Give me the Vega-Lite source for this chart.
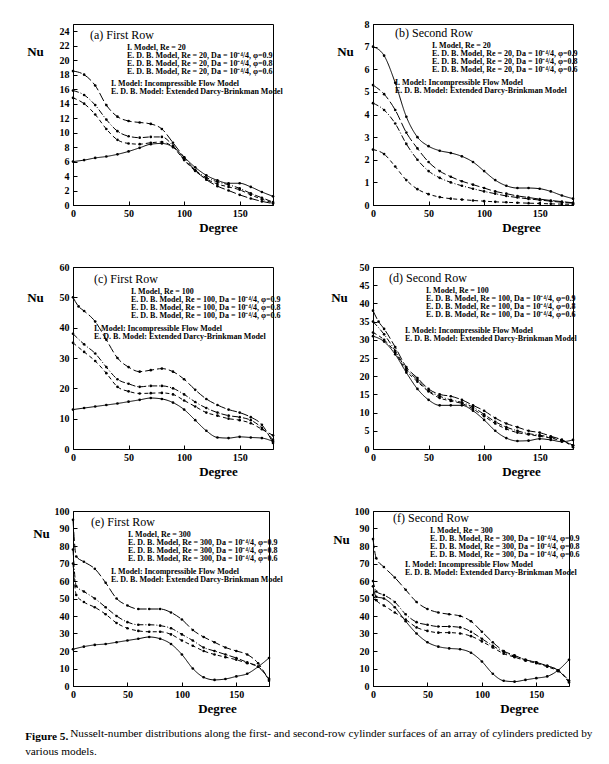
{
  "$schema": "https://vega.github.io/schema/vega-lite/v6.json",
  "padding": {"left": 25, "top": 18, "right": 5, "bottom": 5},
  "background": "white",
  "datasets": {
    "nu": [
      {"p":"a","s":"I","d":0,"n":6.0},{"p":"a","s":"I","d":10,"n":6.2},{"p":"a","s":"I","d":20,"n":6.5},{"p":"a","s":"I","d":30,"n":6.7},{"p":"a","s":"I","d":40,"n":7.0},{"p":"a","s":"I","d":50,"n":7.4},{"p":"a","s":"I","d":60,"n":7.9},{"p":"a","s":"I","d":70,"n":8.4},{"p":"a","s":"I","d":80,"n":8.5},{"p":"a","s":"I","d":90,"n":8.0},{"p":"a","s":"I","d":100,"n":6.6},{"p":"a","s":"I","d":110,"n":5.2},{"p":"a","s":"I","d":120,"n":4.1},{"p":"a","s":"I","d":130,"n":3.4},{"p":"a","s":"I","d":140,"n":3.0},{"p":"a","s":"I","d":150,"n":3.0},{"p":"a","s":"I","d":160,"n":2.5},{"p":"a","s":"I","d":170,"n":1.8},{"p":"a","s":"I","d":180,"n":1.2},
      {"p":"a","s":"0.9","d":0,"n":14.8},{"p":"a","s":"0.9","d":10,"n":14.0},{"p":"a","s":"0.9","d":20,"n":12.5},{"p":"a","s":"0.9","d":30,"n":10.5},{"p":"a","s":"0.9","d":40,"n":9.0},{"p":"a","s":"0.9","d":50,"n":8.5},{"p":"a","s":"0.9","d":60,"n":8.4},{"p":"a","s":"0.9","d":70,"n":8.6},{"p":"a","s":"0.9","d":80,"n":8.7},{"p":"a","s":"0.9","d":90,"n":8.0},{"p":"a","s":"0.9","d":100,"n":6.2},{"p":"a","s":"0.9","d":110,"n":4.7},{"p":"a","s":"0.9","d":120,"n":3.6},{"p":"a","s":"0.9","d":130,"n":2.9},{"p":"a","s":"0.9","d":140,"n":2.5},{"p":"a","s":"0.9","d":150,"n":2.1},{"p":"a","s":"0.9","d":160,"n":1.4},{"p":"a","s":"0.9","d":170,"n":0.8},{"p":"a","s":"0.9","d":180,"n":0.3},
      {"p":"a","s":"0.8","d":0,"n":15.8},{"p":"a","s":"0.8","d":10,"n":15.2},{"p":"a","s":"0.8","d":20,"n":13.8},{"p":"a","s":"0.8","d":30,"n":11.8},{"p":"a","s":"0.8","d":40,"n":10.2},{"p":"a","s":"0.8","d":50,"n":9.5},{"p":"a","s":"0.8","d":60,"n":9.3},{"p":"a","s":"0.8","d":70,"n":9.4},{"p":"a","s":"0.8","d":80,"n":9.4},{"p":"a","s":"0.8","d":90,"n":8.2},{"p":"a","s":"0.8","d":100,"n":6.3},{"p":"a","s":"0.8","d":110,"n":4.8},{"p":"a","s":"0.8","d":120,"n":3.8},{"p":"a","s":"0.8","d":130,"n":3.2},{"p":"a","s":"0.8","d":140,"n":2.8},{"p":"a","s":"0.8","d":150,"n":2.3},{"p":"a","s":"0.8","d":160,"n":1.6},{"p":"a","s":"0.8","d":170,"n":1.0},{"p":"a","s":"0.8","d":180,"n":0.4},
      {"p":"a","s":"0.6","d":0,"n":18.5},{"p":"a","s":"0.6","d":10,"n":18.0},{"p":"a","s":"0.6","d":20,"n":16.5},{"p":"a","s":"0.6","d":30,"n":13.8},{"p":"a","s":"0.6","d":40,"n":12.2},{"p":"a","s":"0.6","d":50,"n":11.6},{"p":"a","s":"0.6","d":60,"n":11.4},{"p":"a","s":"0.6","d":70,"n":11.2},{"p":"a","s":"0.6","d":80,"n":10.5},{"p":"a","s":"0.6","d":90,"n":8.6},{"p":"a","s":"0.6","d":100,"n":6.6},{"p":"a","s":"0.6","d":110,"n":4.8},{"p":"a","s":"0.6","d":120,"n":3.5},{"p":"a","s":"0.6","d":130,"n":2.6},{"p":"a","s":"0.6","d":140,"n":2.0},{"p":"a","s":"0.6","d":150,"n":1.4},{"p":"a","s":"0.6","d":160,"n":0.9},{"p":"a","s":"0.6","d":170,"n":0.5},{"p":"a","s":"0.6","d":180,"n":0.2},

      {"p":"b","s":"I","d":0,"n":7.0},{"p":"b","s":"I","d":10,"n":6.6},{"p":"b","s":"I","d":20,"n":5.4},{"p":"b","s":"I","d":30,"n":3.9},{"p":"b","s":"I","d":40,"n":3.0},{"p":"b","s":"I","d":50,"n":2.6},{"p":"b","s":"I","d":60,"n":2.4},{"p":"b","s":"I","d":70,"n":2.3},{"p":"b","s":"I","d":80,"n":2.15},{"p":"b","s":"I","d":90,"n":1.9},{"p":"b","s":"I","d":100,"n":1.5},{"p":"b","s":"I","d":110,"n":1.1},{"p":"b","s":"I","d":120,"n":0.85},{"p":"b","s":"I","d":130,"n":0.75},{"p":"b","s":"I","d":140,"n":0.75},{"p":"b","s":"I","d":150,"n":0.72},{"p":"b","s":"I","d":160,"n":0.6},{"p":"b","s":"I","d":170,"n":0.42},{"p":"b","s":"I","d":180,"n":0.28},
      {"p":"b","s":"0.9","d":0,"n":2.45},{"p":"b","s":"0.9","d":10,"n":2.25},{"p":"b","s":"0.9","d":20,"n":1.7},{"p":"b","s":"0.9","d":30,"n":1.1},{"p":"b","s":"0.9","d":40,"n":0.7},{"p":"b","s":"0.9","d":50,"n":0.48},{"p":"b","s":"0.9","d":60,"n":0.35},{"p":"b","s":"0.9","d":70,"n":0.28},{"p":"b","s":"0.9","d":80,"n":0.24},{"p":"b","s":"0.9","d":90,"n":0.2},{"p":"b","s":"0.9","d":100,"n":0.17},{"p":"b","s":"0.9","d":110,"n":0.14},{"p":"b","s":"0.9","d":120,"n":0.12},{"p":"b","s":"0.9","d":130,"n":0.1},{"p":"b","s":"0.9","d":140,"n":0.08},{"p":"b","s":"0.9","d":150,"n":0.07},{"p":"b","s":"0.9","d":160,"n":0.05},{"p":"b","s":"0.9","d":170,"n":0.04},{"p":"b","s":"0.9","d":180,"n":0.03},
      {"p":"b","s":"0.8","d":0,"n":4.5},{"p":"b","s":"0.8","d":10,"n":4.2},{"p":"b","s":"0.8","d":20,"n":3.6},{"p":"b","s":"0.8","d":30,"n":2.7},{"p":"b","s":"0.8","d":40,"n":2.0},{"p":"b","s":"0.8","d":50,"n":1.5},{"p":"b","s":"0.8","d":60,"n":1.2},{"p":"b","s":"0.8","d":70,"n":1.0},{"p":"b","s":"0.8","d":80,"n":0.85},{"p":"b","s":"0.8","d":90,"n":0.72},{"p":"b","s":"0.8","d":100,"n":0.6},{"p":"b","s":"0.8","d":110,"n":0.5},{"p":"b","s":"0.8","d":120,"n":0.4},{"p":"b","s":"0.8","d":130,"n":0.33},{"p":"b","s":"0.8","d":140,"n":0.27},{"p":"b","s":"0.8","d":150,"n":0.22},{"p":"b","s":"0.8","d":160,"n":0.17},{"p":"b","s":"0.8","d":170,"n":0.12},{"p":"b","s":"0.8","d":180,"n":0.08},
      {"p":"b","s":"0.6","d":0,"n":5.3},{"p":"b","s":"0.6","d":10,"n":4.9},{"p":"b","s":"0.6","d":20,"n":4.2},{"p":"b","s":"0.6","d":30,"n":3.2},{"p":"b","s":"0.6","d":40,"n":2.5},{"p":"b","s":"0.6","d":50,"n":1.9},{"p":"b","s":"0.6","d":60,"n":1.5},{"p":"b","s":"0.6","d":70,"n":1.25},{"p":"b","s":"0.6","d":80,"n":1.05},{"p":"b","s":"0.6","d":90,"n":0.9},{"p":"b","s":"0.6","d":100,"n":0.75},{"p":"b","s":"0.6","d":110,"n":0.6},{"p":"b","s":"0.6","d":120,"n":0.5},{"p":"b","s":"0.6","d":130,"n":0.4},{"p":"b","s":"0.6","d":140,"n":0.33},{"p":"b","s":"0.6","d":150,"n":0.26},{"p":"b","s":"0.6","d":160,"n":0.2},{"p":"b","s":"0.6","d":170,"n":0.15},{"p":"b","s":"0.6","d":180,"n":0.1},

      {"p":"c","s":"I","d":0,"n":13},{"p":"c","s":"I","d":10,"n":13.5},{"p":"c","s":"I","d":20,"n":14},{"p":"c","s":"I","d":30,"n":14.5},{"p":"c","s":"I","d":40,"n":15},{"p":"c","s":"I","d":50,"n":15.6},{"p":"c","s":"I","d":60,"n":16.2},{"p":"c","s":"I","d":70,"n":16.8},{"p":"c","s":"I","d":80,"n":16.5},{"p":"c","s":"I","d":90,"n":15.3},{"p":"c","s":"I","d":100,"n":13},{"p":"c","s":"I","d":110,"n":9.5},{"p":"c","s":"I","d":120,"n":6},{"p":"c","s":"I","d":130,"n":3.8},{"p":"c","s":"I","d":140,"n":3.6},{"p":"c","s":"I","d":150,"n":4.0},{"p":"c","s":"I","d":160,"n":3.8},{"p":"c","s":"I","d":170,"n":3.6},{"p":"c","s":"I","d":180,"n":2.5},
      {"p":"c","s":"0.9","d":0,"n":35},{"p":"c","s":"0.9","d":10,"n":32},{"p":"c","s":"0.9","d":20,"n":29},{"p":"c","s":"0.9","d":30,"n":25},{"p":"c","s":"0.9","d":40,"n":20.5},{"p":"c","s":"0.9","d":50,"n":19},{"p":"c","s":"0.9","d":60,"n":18.3},{"p":"c","s":"0.9","d":70,"n":18.4},{"p":"c","s":"0.9","d":80,"n":18.5},{"p":"c","s":"0.9","d":90,"n":18},{"p":"c","s":"0.9","d":100,"n":16},{"p":"c","s":"0.9","d":110,"n":14},{"p":"c","s":"0.9","d":120,"n":12},{"p":"c","s":"0.9","d":130,"n":11},{"p":"c","s":"0.9","d":140,"n":10},{"p":"c","s":"0.9","d":150,"n":9.5},{"p":"c","s":"0.9","d":160,"n":8.5},{"p":"c","s":"0.9","d":170,"n":6.5},{"p":"c","s":"0.9","d":180,"n":4.5},
      {"p":"c","s":"0.8","d":0,"n":38},{"p":"c","s":"0.8","d":10,"n":34.5},{"p":"c","s":"0.8","d":20,"n":31.5},{"p":"c","s":"0.8","d":30,"n":27},{"p":"c","s":"0.8","d":40,"n":23},{"p":"c","s":"0.8","d":50,"n":21.5},{"p":"c","s":"0.8","d":60,"n":20.5},{"p":"c","s":"0.8","d":70,"n":20.8},{"p":"c","s":"0.8","d":80,"n":20.8},{"p":"c","s":"0.8","d":90,"n":20},{"p":"c","s":"0.8","d":100,"n":18},{"p":"c","s":"0.8","d":110,"n":15.5},{"p":"c","s":"0.8","d":120,"n":13.5},{"p":"c","s":"0.8","d":130,"n":12},{"p":"c","s":"0.8","d":140,"n":11},{"p":"c","s":"0.8","d":150,"n":10.5},{"p":"c","s":"0.8","d":160,"n":9.5},{"p":"c","s":"0.8","d":170,"n":7},{"p":"c","s":"0.8","d":180,"n":3},
      {"p":"c","s":"0.6","d":0,"n":50},{"p":"c","s":"0.6","d":5,"n":47},{"p":"c","s":"0.6","d":10,"n":45.5},{"p":"c","s":"0.6","d":20,"n":42},{"p":"c","s":"0.6","d":30,"n":36},{"p":"c","s":"0.6","d":40,"n":30},{"p":"c","s":"0.6","d":50,"n":27},{"p":"c","s":"0.6","d":60,"n":25.5},{"p":"c","s":"0.6","d":70,"n":26},{"p":"c","s":"0.6","d":80,"n":26.5},{"p":"c","s":"0.6","d":90,"n":25.5},{"p":"c","s":"0.6","d":100,"n":23},{"p":"c","s":"0.6","d":110,"n":19.5},{"p":"c","s":"0.6","d":120,"n":16.5},{"p":"c","s":"0.6","d":130,"n":14.5},{"p":"c","s":"0.6","d":140,"n":13},{"p":"c","s":"0.6","d":150,"n":12},{"p":"c","s":"0.6","d":160,"n":10.5},{"p":"c","s":"0.6","d":170,"n":8},{"p":"c","s":"0.6","d":180,"n":2},

      {"p":"d","s":"I","d":0,"n":31},{"p":"d","s":"I","d":10,"n":29.5},{"p":"d","s":"I","d":20,"n":26},{"p":"d","s":"I","d":30,"n":21},{"p":"d","s":"I","d":40,"n":16.5},{"p":"d","s":"I","d":50,"n":13.5},{"p":"d","s":"I","d":60,"n":12},{"p":"d","s":"I","d":70,"n":12},{"p":"d","s":"I","d":80,"n":12},{"p":"d","s":"I","d":90,"n":10.5},{"p":"d","s":"I","d":100,"n":8},{"p":"d","s":"I","d":110,"n":5},{"p":"d","s":"I","d":120,"n":3},{"p":"d","s":"I","d":130,"n":2.2},{"p":"d","s":"I","d":140,"n":2.3},{"p":"d","s":"I","d":150,"n":2.8},{"p":"d","s":"I","d":160,"n":2.5},{"p":"d","s":"I","d":170,"n":2.0},{"p":"d","s":"I","d":180,"n":2.5},
      {"p":"d","s":"0.9","d":0,"n":32},{"p":"d","s":"0.9","d":10,"n":30},{"p":"d","s":"0.9","d":20,"n":26.5},{"p":"d","s":"0.9","d":30,"n":21.5},{"p":"d","s":"0.9","d":40,"n":18.5},{"p":"d","s":"0.9","d":50,"n":15.8},{"p":"d","s":"0.9","d":60,"n":14},{"p":"d","s":"0.9","d":70,"n":13.2},{"p":"d","s":"0.9","d":80,"n":12.5},{"p":"d","s":"0.9","d":90,"n":11},{"p":"d","s":"0.9","d":100,"n":9},{"p":"d","s":"0.9","d":110,"n":7},{"p":"d","s":"0.9","d":120,"n":5.5},{"p":"d","s":"0.9","d":130,"n":4.5},{"p":"d","s":"0.9","d":140,"n":4},{"p":"d","s":"0.9","d":150,"n":3.5},{"p":"d","s":"0.9","d":160,"n":3},{"p":"d","s":"0.9","d":170,"n":2.2},{"p":"d","s":"0.9","d":180,"n":1},
      {"p":"d","s":"0.8","d":0,"n":35},{"p":"d","s":"0.8","d":10,"n":31.5},{"p":"d","s":"0.8","d":20,"n":27},{"p":"d","s":"0.8","d":30,"n":22},{"p":"d","s":"0.8","d":40,"n":19},{"p":"d","s":"0.8","d":50,"n":16},{"p":"d","s":"0.8","d":60,"n":14.5},{"p":"d","s":"0.8","d":70,"n":13.5},{"p":"d","s":"0.8","d":80,"n":12.8},{"p":"d","s":"0.8","d":90,"n":11.5},{"p":"d","s":"0.8","d":100,"n":9.5},{"p":"d","s":"0.8","d":110,"n":7.5},{"p":"d","s":"0.8","d":120,"n":6},{"p":"d","s":"0.8","d":130,"n":5},{"p":"d","s":"0.8","d":140,"n":4.2},{"p":"d","s":"0.8","d":150,"n":3.8},{"p":"d","s":"0.8","d":160,"n":3.2},{"p":"d","s":"0.8","d":170,"n":2.5},{"p":"d","s":"0.8","d":180,"n":1},
      {"p":"d","s":"0.6","d":0,"n":38},{"p":"d","s":"0.6","d":5,"n":35},{"p":"d","s":"0.6","d":10,"n":33},{"p":"d","s":"0.6","d":20,"n":28},{"p":"d","s":"0.6","d":30,"n":22.5},{"p":"d","s":"0.6","d":40,"n":19.5},{"p":"d","s":"0.6","d":50,"n":16.5},{"p":"d","s":"0.6","d":60,"n":15},{"p":"d","s":"0.6","d":70,"n":14.5},{"p":"d","s":"0.6","d":80,"n":13.5},{"p":"d","s":"0.6","d":90,"n":12},{"p":"d","s":"0.6","d":100,"n":10.5},{"p":"d","s":"0.6","d":110,"n":8.5},{"p":"d","s":"0.6","d":120,"n":7},{"p":"d","s":"0.6","d":130,"n":6},{"p":"d","s":"0.6","d":140,"n":5},{"p":"d","s":"0.6","d":150,"n":4.5},{"p":"d","s":"0.6","d":160,"n":3.5},{"p":"d","s":"0.6","d":170,"n":2.5},{"p":"d","s":"0.6","d":180,"n":0.5},

      {"p":"e","s":"I","d":0,"n":21},{"p":"e","s":"I","d":10,"n":22.5},{"p":"e","s":"I","d":20,"n":23.5},{"p":"e","s":"I","d":30,"n":24},{"p":"e","s":"I","d":40,"n":25},{"p":"e","s":"I","d":50,"n":26},{"p":"e","s":"I","d":60,"n":27},{"p":"e","s":"I","d":70,"n":28},{"p":"e","s":"I","d":80,"n":27},{"p":"e","s":"I","d":90,"n":24},{"p":"e","s":"I","d":100,"n":18},{"p":"e","s":"I","d":110,"n":10},{"p":"e","s":"I","d":120,"n":5},{"p":"e","s":"I","d":130,"n":3.5},{"p":"e","s":"I","d":140,"n":4},{"p":"e","s":"I","d":150,"n":5.5},{"p":"e","s":"I","d":160,"n":7},{"p":"e","s":"I","d":170,"n":11},{"p":"e","s":"I","d":180,"n":16},
      {"p":"e","s":"0.9","d":0,"n":70},{"p":"e","s":"0.9","d":3,"n":52},{"p":"e","s":"0.9","d":10,"n":48},{"p":"e","s":"0.9","d":20,"n":45},{"p":"e","s":"0.9","d":30,"n":41},{"p":"e","s":"0.9","d":40,"n":36},{"p":"e","s":"0.9","d":50,"n":33},{"p":"e","s":"0.9","d":60,"n":31.5},{"p":"e","s":"0.9","d":70,"n":31},{"p":"e","s":"0.9","d":80,"n":31},{"p":"e","s":"0.9","d":90,"n":29.5},{"p":"e","s":"0.9","d":100,"n":26},{"p":"e","s":"0.9","d":110,"n":23},{"p":"e","s":"0.9","d":120,"n":20},{"p":"e","s":"0.9","d":130,"n":18},{"p":"e","s":"0.9","d":140,"n":16.5},{"p":"e","s":"0.9","d":150,"n":15},{"p":"e","s":"0.9","d":160,"n":13},{"p":"e","s":"0.9","d":170,"n":11},{"p":"e","s":"0.9","d":180,"n":4},
      {"p":"e","s":"0.8","d":0,"n":78},{"p":"e","s":"0.8","d":3,"n":57},{"p":"e","s":"0.8","d":10,"n":54},{"p":"e","s":"0.8","d":20,"n":50},{"p":"e","s":"0.8","d":30,"n":45},{"p":"e","s":"0.8","d":40,"n":40},{"p":"e","s":"0.8","d":50,"n":36.5},{"p":"e","s":"0.8","d":60,"n":35},{"p":"e","s":"0.8","d":70,"n":35},{"p":"e","s":"0.8","d":80,"n":34.5},{"p":"e","s":"0.8","d":90,"n":33},{"p":"e","s":"0.8","d":100,"n":29.5},{"p":"e","s":"0.8","d":110,"n":26},{"p":"e","s":"0.8","d":120,"n":22},{"p":"e","s":"0.8","d":130,"n":20},{"p":"e","s":"0.8","d":140,"n":18},{"p":"e","s":"0.8","d":150,"n":16},{"p":"e","s":"0.8","d":160,"n":13.5},{"p":"e","s":"0.8","d":170,"n":11},{"p":"e","s":"0.8","d":180,"n":4},
      {"p":"e","s":"0.6","d":0,"n":95},{"p":"e","s":"0.6","d":3,"n":74},{"p":"e","s":"0.6","d":10,"n":71},{"p":"e","s":"0.6","d":20,"n":67},{"p":"e","s":"0.6","d":30,"n":59},{"p":"e","s":"0.6","d":40,"n":50},{"p":"e","s":"0.6","d":50,"n":46},{"p":"e","s":"0.6","d":60,"n":44},{"p":"e","s":"0.6","d":70,"n":44},{"p":"e","s":"0.6","d":80,"n":44},{"p":"e","s":"0.6","d":90,"n":42},{"p":"e","s":"0.6","d":100,"n":38},{"p":"e","s":"0.6","d":110,"n":32},{"p":"e","s":"0.6","d":120,"n":28},{"p":"e","s":"0.6","d":130,"n":25},{"p":"e","s":"0.6","d":140,"n":22},{"p":"e","s":"0.6","d":150,"n":20},{"p":"e","s":"0.6","d":160,"n":18},{"p":"e","s":"0.6","d":170,"n":13},{"p":"e","s":"0.6","d":180,"n":3},

      {"p":"f","s":"I","d":0,"n":57},{"p":"f","s":"I","d":3,"n":51},{"p":"f","s":"I","d":10,"n":50},{"p":"f","s":"I","d":20,"n":45},{"p":"f","s":"I","d":30,"n":37},{"p":"f","s":"I","d":40,"n":30},{"p":"f","s":"I","d":50,"n":25},{"p":"f","s":"I","d":60,"n":22.5},{"p":"f","s":"I","d":70,"n":21.5},{"p":"f","s":"I","d":80,"n":21},{"p":"f","s":"I","d":90,"n":19},{"p":"f","s":"I","d":100,"n":14},{"p":"f","s":"I","d":110,"n":7},{"p":"f","s":"I","d":120,"n":3},{"p":"f","s":"I","d":130,"n":2.5},{"p":"f","s":"I","d":140,"n":3.5},{"p":"f","s":"I","d":150,"n":4.5},{"p":"f","s":"I","d":160,"n":5.5},{"p":"f","s":"I","d":170,"n":9},{"p":"f","s":"I","d":180,"n":15},
      {"p":"f","s":"0.9","d":0,"n":52},{"p":"f","s":"0.9","d":3,"n":49},{"p":"f","s":"0.9","d":10,"n":46},{"p":"f","s":"0.9","d":20,"n":42},{"p":"f","s":"0.9","d":30,"n":38},{"p":"f","s":"0.9","d":40,"n":33.5},{"p":"f","s":"0.9","d":50,"n":31.5},{"p":"f","s":"0.9","d":60,"n":30.5},{"p":"f","s":"0.9","d":70,"n":30.5},{"p":"f","s":"0.9","d":80,"n":30},{"p":"f","s":"0.9","d":90,"n":28.5},{"p":"f","s":"0.9","d":100,"n":25.5},{"p":"f","s":"0.9","d":110,"n":22},{"p":"f","s":"0.9","d":120,"n":18.5},{"p":"f","s":"0.9","d":130,"n":16.5},{"p":"f","s":"0.9","d":140,"n":14.5},{"p":"f","s":"0.9","d":150,"n":13},{"p":"f","s":"0.9","d":160,"n":11},{"p":"f","s":"0.9","d":170,"n":8.5},{"p":"f","s":"0.9","d":180,"n":3},
      {"p":"f","s":"0.8","d":0,"n":60},{"p":"f","s":"0.8","d":3,"n":54},{"p":"f","s":"0.8","d":10,"n":52},{"p":"f","s":"0.8","d":20,"n":48},{"p":"f","s":"0.8","d":30,"n":41},{"p":"f","s":"0.8","d":40,"n":36.5},{"p":"f","s":"0.8","d":50,"n":35},{"p":"f","s":"0.8","d":60,"n":34},{"p":"f","s":"0.8","d":70,"n":34},{"p":"f","s":"0.8","d":80,"n":33.5},{"p":"f","s":"0.8","d":90,"n":31},{"p":"f","s":"0.8","d":100,"n":27},{"p":"f","s":"0.8","d":110,"n":23},{"p":"f","s":"0.8","d":120,"n":19.5},{"p":"f","s":"0.8","d":130,"n":17},{"p":"f","s":"0.8","d":140,"n":15},{"p":"f","s":"0.8","d":150,"n":13.5},{"p":"f","s":"0.8","d":160,"n":11.5},{"p":"f","s":"0.8","d":170,"n":9},{"p":"f","s":"0.8","d":180,"n":3},
      {"p":"f","s":"0.6","d":0,"n":84},{"p":"f","s":"0.6","d":3,"n":73},{"p":"f","s":"0.6","d":10,"n":68},{"p":"f","s":"0.6","d":20,"n":62},{"p":"f","s":"0.6","d":30,"n":55},{"p":"f","s":"0.6","d":40,"n":48},{"p":"f","s":"0.6","d":50,"n":44},{"p":"f","s":"0.6","d":60,"n":42},{"p":"f","s":"0.6","d":70,"n":41},{"p":"f","s":"0.6","d":80,"n":40},{"p":"f","s":"0.6","d":90,"n":37},{"p":"f","s":"0.6","d":100,"n":31},{"p":"f","s":"0.6","d":110,"n":25},{"p":"f","s":"0.6","d":120,"n":20},{"p":"f","s":"0.6","d":130,"n":17.5},{"p":"f","s":"0.6","d":140,"n":15},{"p":"f","s":"0.6","d":150,"n":13.5},{"p":"f","s":"0.6","d":160,"n":11.5},{"p":"f","s":"0.6","d":170,"n":9},{"p":"f","s":"0.6","d":180,"n":2}
    ]
  },
  "title": {
    "text": "Nusselt-number distributions along the first- and second-row cylinder surfaces of an array of cylinders predicted by",
    "orient": "bottom", "anchor": "start", "font": "Liberation Serif", "fontSize": 11.3, "fontWeight": "normal", "color": "black", "offset": 0, "dx": 45, "dy": -29
  },
  "vconcat": [
    {
      "hconcat": [
        {
          "width": 200, "height": 181,
          "layer": [
            {
              "data": {"name": "nu"}, "transform": [{"filter": "datum.p == 'a'"}],
              "mark": {"type": "line", "interpolate": "monotone", "color": "black", "strokeWidth": 1, "point": {"filled": true, "size": 7, "color": "black"}},
              "encoding": {
                "x": {"field": "d", "type": "quantitative", "scale": {"domain": [0, 180], "nice": false}, "axis": {"values": [0, 50, 100, 150], "format": "d", "tickCount": 100, "labelOverlap": false, "title": "Degree", "titleX": 145}},
                "y": {"field": "n", "type": "quantitative", "scale": {"domain": [0, 25], "nice": false}, "axis": {"values": [0, 2, 4, 6, 8, 10, 12, 14, 16, 18, 20, 22, 24], "format": "d", "tickCount": 100, "labelOverlap": false, "title": "Nu", "titleX": -38, "titleY": 27}},
                "strokeDash": {"field": "s", "type": "nominal", "scale": {"domain": ["I", "0.9", "0.8", "0.6"], "range": [[1, 0], [4, 3], [6, 2, 1, 2], [9, 3]]},
                  "legend": {"title": "(a) First Row", "legendX": 17, "legendY": 6, "labelExpr": "datum.value == 'I' ? 'I. Model, Re = 20' : 'E. D. B. Model, Re = 20, Da = 10⁻⁴/4, φ=' + datum.value"}}
              }
            },
            {
              "data": {"values": [{}]},
              "mark": {"type": "text", "align": "left", "baseline": "top", "font": "Liberation Serif", "fontWeight": "bold", "fontSize": 8, "lineHeight": 8, "color": "black"},
              "encoding": {"x": {"datum": 34.2}, "y": {"datum": 17.3}, "text": {"value": ["I. Model: Incompressible Flow Model", "E. D. B. Model: Extended Darcy-Brinkman Model"]}}
            }
          ]
        },
        {
          "width": 200, "height": 181,
          "layer": [
            {
              "data": {"name": "nu"}, "transform": [{"filter": "datum.p == 'b'"}],
              "mark": {"type": "line", "interpolate": "monotone", "color": "black", "strokeWidth": 1, "point": {"filled": true, "size": 7, "color": "black"}},
              "encoding": {
                "x": {"field": "d", "type": "quantitative", "scale": {"domain": [0, 180], "nice": false}, "axis": {"values": [0, 50, 100, 150], "format": "d", "tickCount": 100, "labelOverlap": false, "title": "Degree", "titleX": 148}},
                "y": {"field": "n", "type": "quantitative", "scale": {"domain": [0, 8], "nice": false}, "axis": {"values": [0, 1, 2, 3, 4, 5, 6, 7, 8], "format": "d", "tickCount": 100, "labelOverlap": false, "title": "Nu", "titleX": -28, "titleY": 27}},
                "strokeDash": {"field": "s", "type": "nominal", "scale": {"domain": ["I", "0.9", "0.8", "0.6"], "range": [[1, 0], [4, 3], [6, 2, 1, 2], [9, 3]]},
                  "legend": {"title": "(b) Second Row", "legendX": 22, "legendY": 4, "labelExpr": "datum.value == 'I' ? 'I. Model, Re = 20' : 'E. D. B. Model, Re = 20, Da = 10⁻⁴/4, φ=' + datum.value"}}
              }
            },
            {
              "data": {"values": [{}]},
              "mark": {"type": "text", "align": "left", "baseline": "top", "font": "Liberation Serif", "fontWeight": "bold", "fontSize": 8, "lineHeight": 8, "color": "black"},
              "encoding": {"x": {"datum": 19.8}, "y": {"datum": 5.57}, "text": {"value": ["I. Model: Incompressible Flow Model", "E. D. B. Model: Extended Darcy-Brinkman Model"]}}
            }
          ]
        }
      ],
      "spacing": 100, "bounds": "flush",
      "resolve": {"scale": {"strokeDash": "independent"}, "legend": {"strokeDash": "independent"}}
    },
    {
      "hconcat": [
        {
          "width": 200, "height": 182,
          "layer": [
            {
              "data": {"name": "nu"}, "transform": [{"filter": "datum.p == 'c'"}],
              "mark": {"type": "line", "interpolate": "monotone", "color": "black", "strokeWidth": 1, "point": {"filled": true, "size": 7, "color": "black"}},
              "encoding": {
                "x": {"field": "d", "type": "quantitative", "scale": {"domain": [0, 180], "nice": false}, "axis": {"values": [0, 50, 100, 150], "format": "d", "tickCount": 100, "labelOverlap": false, "title": "Degree", "titleX": 145}},
                "y": {"field": "n", "type": "quantitative", "scale": {"domain": [0, 60], "nice": false}, "axis": {"values": [0, 10, 20, 30, 40, 50, 60], "format": "d", "tickCount": 100, "labelOverlap": false, "title": "Nu", "titleX": -38, "titleY": 30}},
                "strokeDash": {"field": "s", "type": "nominal", "scale": {"domain": ["I", "0.9", "0.8", "0.6"], "range": [[1, 0], [4, 3], [6, 2, 1, 2], [9, 3]]},
                  "legend": {"title": "(c) First Row", "legendX": 21, "legendY": 7, "labelExpr": "datum.value == 'I' ? 'I. Model, Re = 100' : 'E. D. B. Model, Re = 100, Da = 10⁻⁴/4, φ=' + datum.value"}}
              }
            },
            {
              "data": {"values": [{}]},
              "mark": {"type": "text", "align": "left", "baseline": "top", "font": "Liberation Serif", "fontWeight": "bold", "fontSize": 8, "lineHeight": 8, "color": "black"},
              "encoding": {"x": {"datum": 18.9}, "y": {"datum": 40.9}, "text": {"value": ["I. Model: Incompressible Flow Model", "E. D. B. Model: Extended Darcy-Brinkman Model"]}}
            }
          ]
        },
        {
          "width": 200, "height": 182,
          "layer": [
            {
              "data": {"name": "nu"}, "transform": [{"filter": "datum.p == 'd'"}],
              "mark": {"type": "line", "interpolate": "monotone", "color": "black", "strokeWidth": 1, "point": {"filled": true, "size": 7, "color": "black"}},
              "encoding": {
                "x": {"field": "d", "type": "quantitative", "scale": {"domain": [0, 180], "nice": false}, "axis": {"values": [0, 50, 100, 150], "format": "d", "tickCount": 100, "labelOverlap": false, "title": "Degree", "titleX": 148}},
                "y": {"field": "n", "type": "quantitative", "scale": {"domain": [0, 50], "nice": false}, "axis": {"values": [0, 5, 10, 15, 20, 25, 30, 35, 40, 45, 50], "format": "d", "tickCount": 100, "labelOverlap": false, "title": "Nu", "titleX": -34, "titleY": 30}},
                "strokeDash": {"field": "s", "type": "nominal", "scale": {"domain": ["I", "0.9", "0.8", "0.6"], "range": [[1, 0], [4, 3], [6, 2, 1, 2], [9, 3]]},
                  "legend": {"title": "(d) Second Row", "legendX": 16, "legendY": 6, "labelExpr": "datum.value == 'I' ? 'I. Model, Re = 100' : 'E. D. B. Model, Re = 100, Da = 10⁻⁴/4, φ=' + datum.value"}}
              }
            },
            {
              "data": {"values": [{}]},
              "mark": {"type": "text", "align": "left", "baseline": "top", "font": "Liberation Serif", "fontWeight": "bold", "fontSize": 8, "lineHeight": 8, "color": "black"},
              "encoding": {"x": {"datum": 28.8}, "y": {"datum": 33.5}, "text": {"value": ["I. Model: Incompressible Flow Model", "E. D. B. Model: Extended Darcy-Brinkman Model"]}}
            }
          ]
        }
      ],
      "spacing": 100, "bounds": "flush",
      "resolve": {"scale": {"strokeDash": "independent"}, "legend": {"strokeDash": "independent"}}
    },
    {
      "title": {
        "text": "Figure 5.", "subtitle": "various models.",
        "orient": "bottom", "anchor": "start", "font": "Liberation Serif", "fontSize": 11.3, "fontWeight": "bold", "color": "black",
        "subtitleFont": "Liberation Serif", "subtitleFontSize": 11.3, "subtitleFontWeight": "normal", "subtitleColor": "black", "subtitlePadding": 4,
        "offset": 15, "dx": -7
      },
      "hconcat": [
        {
          "width": 196, "height": 175,
          "layer": [
            {
              "data": {"name": "nu"}, "transform": [{"filter": "datum.p == 'e'"}],
              "mark": {"type": "line", "interpolate": "monotone", "color": "black", "strokeWidth": 1, "point": {"filled": true, "size": 7, "color": "black"}},
              "encoding": {
                "x": {"field": "d", "type": "quantitative", "scale": {"domain": [0, 180], "nice": false}, "axis": {"values": [0, 50, 100, 150], "format": "d", "tickCount": 100, "labelOverlap": false, "title": "Degree", "titleX": 144}},
                "y": {"field": "n", "type": "quantitative", "scale": {"domain": [0, 100], "nice": false}, "axis": {"values": [0, 10, 20, 30, 40, 50, 60, 70, 80, 90, 100], "format": "d", "tickCount": 100, "labelOverlap": false, "title": "Nu", "titleX": -32, "titleY": 22}},
                "strokeDash": {"field": "s", "type": "nominal", "scale": {"domain": ["I", "0.9", "0.8", "0.6"], "range": [[1, 0], [4, 3], [6, 2, 1, 2], [9, 3]]},
                  "legend": {"title": "(e) First Row", "legendX": 18, "legendY": 6, "labelExpr": "datum.value == 'I' ? 'I. Model, Re = 300' : 'E. D. B. Model, Re = 300, Da = 10⁻⁴/4, φ=' + datum.value"}}
              }
            },
            {
              "data": {"values": [{}]},
              "mark": {"type": "text", "align": "left", "baseline": "top", "font": "Liberation Serif", "fontWeight": "bold", "fontSize": 8, "lineHeight": 8, "color": "black"},
              "encoding": {"x": {"datum": 34.9}, "y": {"datum": 67.5}, "text": {"value": ["I. Model: Incompressible Flow Model", "E. D. B. Model: Extended Darcy-Brinkman Model"]}}
            }
          ]
        },
        {
          "width": 196, "height": 175,
          "layer": [
            {
              "data": {"name": "nu"}, "transform": [{"filter": "datum.p == 'f'"}],
              "mark": {"type": "line", "interpolate": "monotone", "color": "black", "strokeWidth": 1, "point": {"filled": true, "size": 7, "color": "black"}},
              "encoding": {
                "x": {"field": "d", "type": "quantitative", "scale": {"domain": [0, 180], "nice": false}, "axis": {"values": [0, 50, 100, 150], "format": "d", "tickCount": 100, "labelOverlap": false, "title": "Degree", "titleX": 146}},
                "y": {"field": "n", "type": "quantitative", "scale": {"domain": [0, 100], "nice": false}, "axis": {"values": [0, 10, 20, 30, 40, 50, 60, 70, 80, 90, 100], "format": "d", "tickCount": 100, "labelOverlap": false, "title": "Nu", "titleX": -32, "titleY": 28}},
                "strokeDash": {"field": "s", "type": "nominal", "scale": {"domain": ["I", "0.9", "0.8", "0.6"], "range": [[1, 0], [4, 3], [6, 2, 1, 2], [9, 3]]},
                  "legend": {"title": "(f) Second Row", "legendX": 20, "legendY": 2, "labelExpr": "datum.value == 'I' ? 'I. Model, Re = 300' : 'E. D. B. Model, Re = 300, Da = 10⁻⁴/4, φ=' + datum.value"}}
              }
            },
            {
              "data": {"values": [{}]},
              "mark": {"type": "text", "align": "left", "baseline": "top", "font": "Liberation Serif", "fontWeight": "bold", "fontSize": 8, "lineHeight": 8, "color": "black"},
              "encoding": {"x": {"datum": 29.4}, "y": {"datum": 71.4}, "text": {"value": ["I. Model: Incompressible Flow Model", "E. D. B. Model: Extended Darcy-Brinkman Model"]}}
            }
          ]
        }
      ],
      "spacing": 104, "bounds": "flush",
      "resolve": {"scale": {"strokeDash": "independent"}, "legend": {"strokeDash": "independent"}}
    }
  ],
  "spacing": 26,
  "resolve": {"scale": {"strokeDash": "independent"}, "legend": {"strokeDash": "independent"}},
  "config": {
    "font": "Liberation Serif",
    "view": {"stroke": "black", "strokeWidth": 1},
    "axis": {
      "grid": false, "domainColor": "black", "tickColor": "black", "tickSize": -4, "labelOverlap": false,
      "labelFont": "Liberation Serif", "labelFontSize": 10, "labelFontWeight": "bold", "labelColor": "black",
      "titleFont": "Liberation Serif", "titleFontSize": 13, "titleFontWeight": "bold", "titleColor": "black"
    },
    "axisY": {"titleAngle": 0, "titleAlign": "center", "titleBaseline": "middle", "labelPadding": 8},
    "axisX": {"titleY": 22, "titleAlign": "center", "titleBaseline": "middle", "labelFlush": false, "labelPadding": 7},
    "legend": {
      "orient": "none", "padding": 0, "offset": 0,
      "titleFont": "Liberation Serif", "titleFontSize": 12, "titleFontWeight": "normal", "titleColor": "black", "titlePadding": 2, "titleLimit": 300,
      "labelFont": "Liberation Serif", "labelFontSize": 8, "labelFontWeight": "bold", "labelColor": "black", "labelLimit": 300, "labelOffset": 4,
      "symbolType": "stroke", "symbolSize": 1024, "symbolStrokeColor": "black", "symbolStrokeWidth": 1, "clipHeight": 8, "rowPadding": 0
    }
  }
}
